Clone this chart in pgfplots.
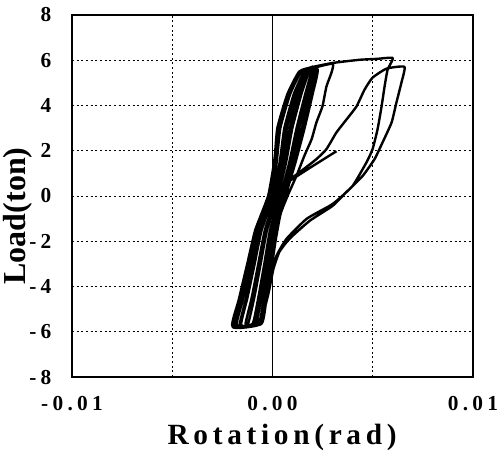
\documentclass[border=0pt]{standalone}
\usepackage{fontspec}
\setmainfont{Liberation Serif}
\newfontfamily\tickfont[LetterSpace=20]{Liberation Serif}
\newfontfamily\labfont[LetterSpace=16]{Liberation Serif}
\usepackage{pgfplots}
\pgfplotsset{compat=1.18}

\begin{document}
\begin{tikzpicture}
\useasboundingbox (-54pt,-63.75pt) rectangle (319.5pt,282.75pt);
\begin{axis}[scale only axis, width=300.75pt, height=271.5pt,
  xmin=-10, xmax=10, ymin=-8, ymax=8,
  xtick={-10,0,10}, xticklabels={-0.01,0.00,0.01},
  ytick={-8,-6,-4,-2,0,2,4,6,8}, yticklabels={-8,-6,-4,-2,0,2,4,6,8},
  extra x ticks={-5,5}, extra x tick labels={},
  extra x tick style={grid=major},
  ymajorgrids,
  grid style={black, line width=0.6pt, dash pattern=on 1.5pt off 2pt},
  major tick length=0pt,
  axis line style={line width=0.8pt},
  tick label style={font=\tickfont\fontsize{16}{16}\selectfont\bfseries},
  xticklabel style={yshift=-11pt},
  yticklabel style={xshift=-12pt},
  xlabel={\labfont\fontsize{22}{22}\selectfont\bfseries Rotation(rad)},
  xlabel style={at={(axis description cs:0.524,-0.168)}, anchor=center},
  ylabel={\fontsize{24}{24}\selectfont\bfseries Load(ton)},
  ylabel style={at={(axis description cs:-0.135,0.445)}, anchor=center},
]
% zero line
\addplot[black, line width=0.7pt] coordinates {(0,-8) (0,8)};
% small cycles bundle, big loops, final branch
\addplot[black, line width=1.8pt, line join=round, smooth, tension=0.3] coordinates {
(0.2,0)(0.57,1.5)(0.86,3)(1.31,4.5)(1.76,5.5)(1.85,5.6)
(1.44,4.5)(0.99,3)(0.68,1.5)(0.27,0)(-0.27,-1.5)(-0.59,-3)(-0.91,-4.5)(-1.20,-5.6)(-1.35,-5.65)
(-1.04,-4.5)(-0.71,-3)(-0.38,-1.5)(0.18,0)
(0.47,1.5)(0.72,3)(1.19,4.5)(1.67,5.5)(1.98,5.65)
(1.63,4.5)(1.20,3)(0.84,1.5)(0.40,0)(-0.12,-1.5)(-0.41,-3)(-0.71,-4.5)(-0.99,-5.65)(-1.57,-5.7)
(-1.25,-4.5)(-0.89,-3)(-0.54,-1.5)(0.06,0)
(0.42,1.5)(0.66,3)(1.13,4.5)(1.62,5.5)(2.03,5.6)
(1.69,4.5)(1.26,3)(0.89,1.5)(0.44,0)(-0.06,-1.5)(-0.35,-3)(-0.64,-4.5)(-0.91,-5.6)(-1.64,-5.75)
(-1.31,-4.5)(-0.95,-3)(-0.59,-1.5)(0.01,0)
(0.36,1.5)(0.59,3)(1.06,4.5)(1.58,5.5)(2.07,5.7)
(1.75,4.5)(1.33,3)(0.94,1.5)(0.48,0)(-0.01,-1.5)(-0.29,-3)(-0.57,-4.5)(-0.84,-5.65)(-1.78,-5.7)
(-1.45,-4.5)(-1.07,-3)(-0.69,-1.5)(-0.07,0)
(0.21,1.5)(0.39,3)(0.88,4.5)(1.44,5.5)(2.16,5.6)
(1.88,4.5)(1.47,3)(1.05,1.5)(0.57,0)(0.10,-1.5)(-0.17,-3)(-0.44,-4.5)(-0.70,-5.65)(-1.93,-5.75)
(-1.58,-4.5)(-1.19,-3)(-0.80,-1.5)(-0.16,0)
(0.15,1.5)(0.32,3)(0.81,4.5)(1.40,5.5)(2.21,5.65)
(1.94,4.5)(1.53,3)(1.10,1.5)(0.61,0)(0.15,-1.5)(-0.11,-3)(-0.37,-4.5)(-0.62,-5.6)(-2.0,-5.75)
(-1.65,-4.5)(-1.25,-3)(-0.85,-1.5)(-0.2,0)
(0.10,1.5)(0.25,3)(0.75,4.5)(1.35,5.5)(2.25,5.6)
(2.00,4.5)(1.60,3)(1.15,1.5)(0.65,0)(0.20,-1.5)(-0.05,-3)(-0.30,-4.5)(-0.55,-5.65)(-1.95,-5.8)
(-1.62,-4.5)(-1.22,-3)(-0.82,-1.5)(-0.22,0)(0.08,1.5)(0.27,3)(0.78,4.5)(1.35,5.45)(2.0,5.65)(3.0,5.85)
(2.94,5.45)(2.69,4.84)(2.49,3.96)(2.19,3.25)(1.95,2.51)(1.6,1.8)(1.2,0.9)(0.75,0.0)(0.4,-0.8)(0.15,-2.0)(-0.1,-3.5)(-0.35,-4.8)(-0.6,-5.6)(-1.98,-5.8)
(-1.66,-4.5)(-1.26,-3)(-0.86,-1.5)(-0.22,0)(0.09,1.5)(0.24,3)(0.74,4.5)(1.33,5.5)(2.0,5.7)(3.0,5.88)(4.34,6.02)(5.2,6.06)(6.0,6.1)
(5.74,5.58)(5.59,4.84)(5.44,3.96)(5.24,2.95)(4.99,2.07)(4.69,1.49)(3.99,0.44)(3.19,-0.22)(2.84,-0.44)(1.70,-1.01)(0.70,-1.89)(0.2,-2.64)(0,-3.34)(-0.25,-4.4)(-0.55,-5.4)(-1.0,-5.7)(-1.9,-5.8)
(-1.6,-4.5)(-1.2,-3)(-0.8,-1.5)(-0.3,-0.3)(0,0.09)(0.7,0.62)(1.35,1.05)(2.19,1.63)(2.69,2.07)(3.19,2.81)(3.69,3.38)(4.19,3.96)(4.59,4.70)(4.99,5.23)(5.69,5.63)(6.58,5.71)
(6.43,5.01)(6.18,4.13)(5.94,3.25)(5.49,2.37)(5.09,1.63)(4.49,0.88)(3.69,0.18)(2.99,-0.44)(1.85,-1.10)(0.85,-1.89)(0.35,-2.46)(0.05,-3.21)(-0.2,-4.3)(-0.5,-5.3)(-0.9,-5.65)(-1.8,-5.75)
(-1.56,-4.5)(-1.17,-3)(-0.78,-1.5)(-0.3,-0.2)(0,0.18)(1.0,0.75)(2.0,1.32)(3.19,1.98)
};
\end{axis}
\end{tikzpicture}
\end{document}
